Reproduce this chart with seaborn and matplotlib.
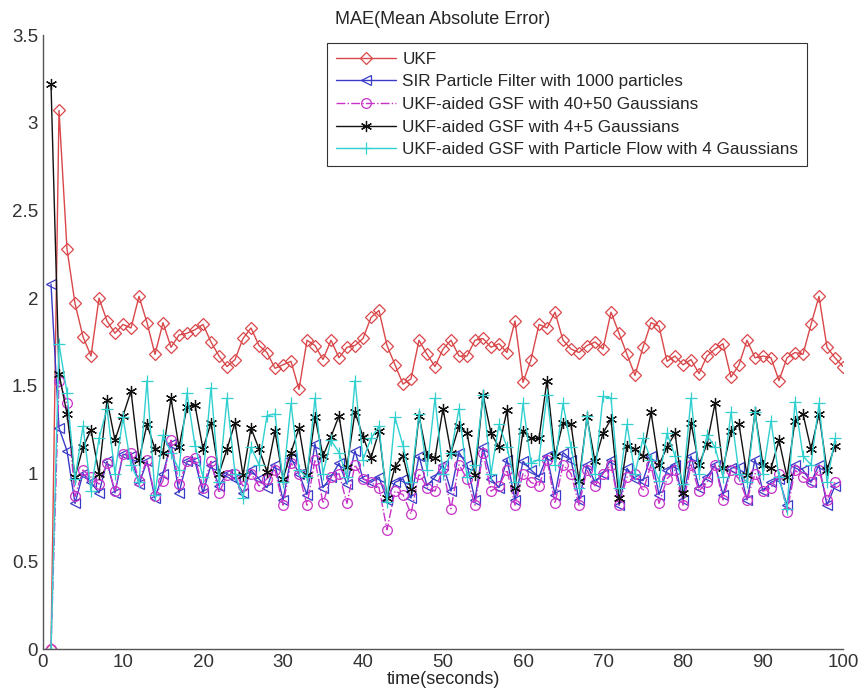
import numpy as np
import pandas as pd
import seaborn as sns
import matplotlib.pyplot as plt
from matplotlib.ticker import FormatStrFormatter

# time steps
t_ukf = list(range(1, 101))
t_other = list(range(1, 100))

ukf = [0.00, 3.07, 2.28, 1.97, 1.78, 1.67, 2.00, 1.87, 1.80, 1.85,
       1.83, 2.01, 1.86, 1.68, 1.86, 1.72, 1.79, 1.80, 1.82, 1.85,
       1.75, 1.67, 1.61, 1.65, 1.77, 1.83, 1.73, 1.69, 1.60, 1.62,
       1.64, 1.48, 1.76, 1.73, 1.65, 1.76, 1.66, 1.72, 1.73, 1.77,
       1.89, 1.93, 1.73, 1.62, 1.51, 1.54, 1.76, 1.68, 1.61, 1.71,
       1.76, 1.67, 1.67, 1.76, 1.77, 1.72, 1.74, 1.69, 1.87, 1.52,
       1.65, 1.85, 1.83, 1.92, 1.76, 1.71, 1.69, 1.73, 1.75, 1.71,
       1.92, 1.80, 1.68, 1.56, 1.72, 1.86, 1.84, 1.64, 1.67, 1.62,
       1.65, 1.57, 1.67, 1.71, 1.74, 1.55, 1.62, 1.76, 1.66, 1.67,
       1.66, 1.53, 1.66, 1.69, 1.68, 1.85, 2.01, 1.72, 1.66, 1.61]

sir = [2.08, 1.26, 1.13, 0.83, 1.00, 0.95, 0.89, 1.07, 0.89, 1.11,
       1.10, 0.94, 1.07, 0.86, 1.00, 1.17, 0.89, 1.07, 1.07, 0.89,
       1.05, 0.93, 1.00, 0.97, 0.89, 1.02, 0.97, 0.92, 1.05, 0.85,
       1.09, 1.00, 0.88, 1.17, 0.92, 0.98, 1.06, 0.94, 1.13, 0.97,
       0.95, 0.98, 0.85, 0.95, 0.97, 0.86, 1.10, 0.93, 0.98, 1.05,
       0.90, 1.12, 1.05, 0.85, 1.15, 0.97, 0.92, 1.08, 0.85, 1.07,
       1.02, 0.98, 1.10, 0.88, 1.12, 1.08, 0.85, 1.05, 0.95, 1.00,
       1.08, 0.82, 1.03, 0.97, 0.96, 1.10, 0.88, 1.02, 1.05, 0.85,
       1.10, 0.92, 0.98, 1.05, 0.88, 1.03, 1.04, 0.85, 1.08, 0.90,
       0.95, 0.97, 0.82, 1.05, 1.02, 0.95, 1.05, 0.82, 0.93]

gsf40 = [0.00, 1.53, 1.40, 0.87, 1.02, 0.98, 0.94, 1.06, 0.90, 1.11,
         1.12, 0.96, 1.08, 0.87, 0.96, 1.19, 0.94, 1.07, 1.09, 0.92,
         1.07, 0.89, 0.99, 1.00, 0.93, 1.00, 0.93, 0.97, 1.02, 0.82,
         1.06, 1.00, 0.82, 1.08, 0.83, 0.98, 1.00, 0.83, 1.05, 0.97,
         0.95, 0.92, 0.68, 0.90, 0.88, 0.77, 1.00, 0.92, 0.90, 1.03,
         0.80, 1.05, 0.97, 0.82, 1.12, 0.90, 0.93, 1.02, 0.82, 1.00,
         0.95, 0.93, 1.08, 0.83, 1.05, 1.00, 0.82, 1.02, 0.93, 1.00,
         1.05, 0.82, 0.98, 1.00, 0.90, 1.05, 0.83, 0.97, 1.02, 0.82,
         1.05, 0.90, 0.95, 1.05, 0.85, 1.02, 0.97, 0.85, 1.00, 0.90,
         0.92, 1.00, 0.78, 1.02, 0.98, 0.95, 1.02, 0.85, 0.95]

gsf45 = [3.22, 1.57, 1.34, 0.98, 1.15, 1.25, 1.00, 1.42, 1.19, 1.33,
         1.47, 1.08, 1.28, 1.14, 1.12, 1.43, 1.15, 1.38, 1.39, 1.14,
         1.29, 1.00, 1.14, 1.29, 0.99, 1.26, 1.14, 1.01, 1.24, 0.97,
         1.12, 1.26, 0.99, 1.32, 1.10, 1.21, 1.33, 1.04, 1.35, 1.21,
         1.09, 1.24, 0.86, 1.04, 1.10, 0.91, 1.33, 1.10, 1.09, 1.37,
         1.12, 1.27, 1.23, 0.99, 1.45, 1.23, 1.15, 1.36, 0.92, 1.24,
         1.20, 1.20, 1.53, 1.10, 1.29, 1.28, 0.96, 1.32, 1.07, 1.23,
         1.31, 0.86, 1.16, 1.14, 1.10, 1.35, 1.05, 1.15, 1.23, 0.89,
         1.29, 1.05, 1.17, 1.40, 1.03, 1.24, 1.28, 0.99, 1.35, 1.05,
         1.03, 1.19, 0.98, 1.30, 1.34, 1.14, 1.34, 1.02, 1.16]

pflow = [0.00, 1.74, 1.46, 0.97, 1.27, 0.90, 1.20, 1.37, 1.00, 1.32,
         1.05, 0.95, 1.53, 0.88, 1.22, 1.12, 1.02, 1.46, 1.16, 0.98,
         1.49, 0.95, 1.43, 1.00, 0.86, 1.15, 1.05, 1.33, 1.34, 0.95,
         1.40, 1.02, 0.98, 1.43, 1.00, 1.19, 1.12, 0.98, 1.53, 1.08,
         1.20, 1.27, 0.84, 1.32, 1.16, 0.95, 1.34, 1.02, 1.43, 1.00,
         1.12, 1.37, 0.98, 1.05, 1.45, 1.00, 1.28, 1.15, 0.95, 1.40,
         1.06, 1.08, 1.45, 1.05, 1.40, 1.15, 0.92, 1.33, 1.00, 1.44,
         1.43, 0.92, 1.28, 1.00, 1.20, 1.08, 0.96, 1.23, 1.10, 0.94,
         1.43, 1.00, 1.22, 1.15, 0.98, 1.35, 1.00, 0.95, 1.35, 1.00,
         1.30, 0.98, 0.80, 1.41, 1.10, 1.05, 1.40, 0.95, 1.20]

labels = ["UKF",
          "SIR Particle Filter with 1000 particles",
          "UKF-aided GSF with 40+50 Gaussians",
          "UKF-aided GSF with 4+5 Gaussians",
          "UKF-aided GSF with Particle Flow with 4 Gaussians"]

sns.set_style("white")
plt.rcParams['font.family'] = ['Liberation Sans', 'DejaVu Sans']

fig, ax = plt.subplots(figsize=(8.59, 6.95), dpi=100)
fig.subplots_adjust(left=43/859, right=843/859, top=1-35/695, bottom=1-649/695)

styles = [
    (t_ukf, ukf, '#d9474a', 'D', '-', 6),
    (t_other, sir, '#3a3ac8', '<', '-', 7),
    (t_other, gsf40, '#c832c8', 'o', '-.', 7),
    (t_other, gsf45, '#111111', (6, 2, 0), '-', 8),
    (t_other, pflow, '#30d0d0', '+', '-', 8),
]

for (x, y, c, m, ls, ms), lab in zip(styles, labels):
    sns.lineplot(x=x, y=y, ax=ax, color=c, marker=m, linestyle=ls, markersize=ms,
                 markerfacecolor='none', markeredgecolor=c, markeredgewidth=0.9,
                 linewidth=1.0, label=lab, sort=False)

ax.set_xlim(0, 100)
ax.set_ylim(0, 3.5)
ax.set_xticks(np.arange(0, 101, 10))
ax.set_yticks(np.arange(0, 3.51, 0.5))
ax.yaxis.set_major_formatter(FormatStrFormatter('%g'))
ax.tick_params(direction='in', length=5, labelsize=13.5, colors='#333333', width=0.8)
for s in ['top', 'right']:
    ax.spines[s].set_visible(False)
for s in ['left', 'bottom']:
    ax.spines[s].set_color('#555555')
    ax.spines[s].set_linewidth(1.0)

ax.set_title("MAE(Mean Absolute Error)", fontsize=13, pad=8)
ax.set_xlabel("time(seconds)", fontsize=13, labelpad=0)
ax.set_ylabel("")

leg = ax.legend(loc='upper right', bbox_to_anchor=(0.955, 0.987), borderaxespad=0,
                fontsize=12.3, handlelength=3.5, frameon=True, fancybox=False,
                framealpha=1, edgecolor='#333333', labelspacing=0.45,
                handletextpad=0.4, borderpad=0.5)
leg.get_frame().set_linewidth(0.8)

fig.savefig("out.png", dpi=100)
